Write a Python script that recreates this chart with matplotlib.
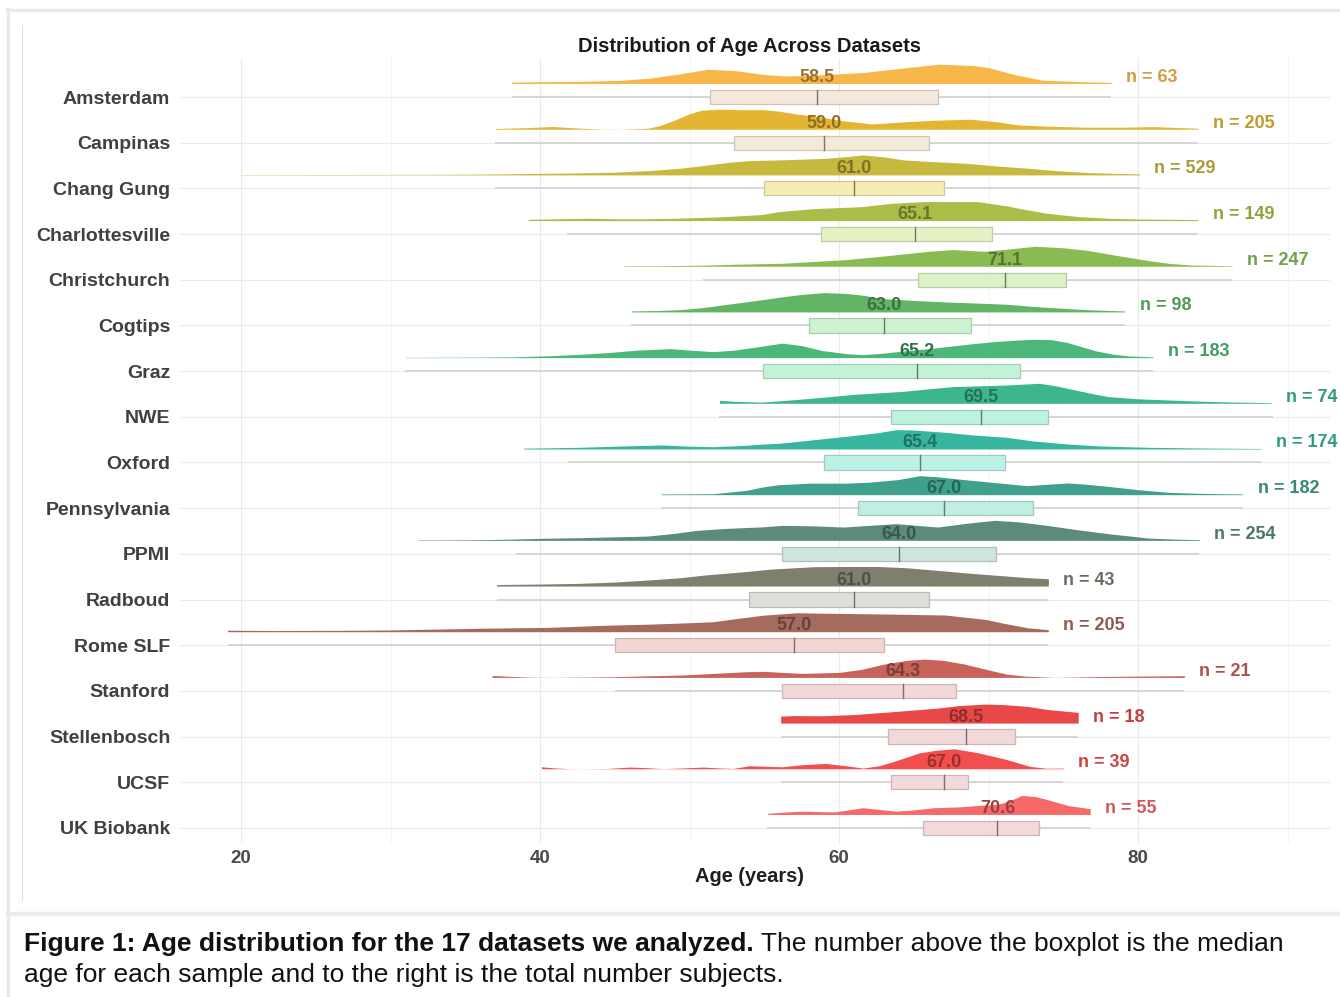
import matplotlib
matplotlib.use("Agg")
import matplotlib.pyplot as plt
from matplotlib.patches import Rectangle
from matplotlib.lines import Line2D
import matplotlib.colors as mcolors
import numpy as np

plt.rcParams['font.family'] = ['Liberation Sans', 'DejaVu Sans']

# ---------------- data ----------------
datasets = ["Amsterdam", "Campinas", "Chang Gung", "Charlottesville", "Christchurch",
            "Cogtips", "Graz", "NWE", "Oxford", "Pennsylvania", "PPMI", "Radboud",
            "Rome SLF", "Stanford", "Stellenbosch", "UCSF", "UK Biobank"]
n_subjects = [63, 205, 529, 149, 247, 98, 183, 74, 174, 182, 254, 43, 205, 21, 18, 39, 55]
median_labels = ["58.5", "59.0", "61.0", "65.1", "71.1", "63.0", "65.2", "69.5", "65.4",
                 "67.0", "64.0", "61.0", "57.0", "64.3", "68.5", "67.0", "70.6"]
medians = [58.5, 59.0, 61.0, 65.1, 71.1, 63.0, 65.2, 69.5, 65.4, 67.0, 64.0, 61.0, 57.0,
           64.3, 68.5, 67.0, 70.6]
q1 = [51.4, 53.0, 55.0, 58.8, 65.3, 58.0, 54.9, 63.5, 59.0, 61.3, 56.2, 54.0, 45.0, 56.2,
      63.3, 63.5, 65.6]
q3 = [66.6, 66.0, 67.0, 70.2, 75.2, 68.8, 72.1, 74.0, 71.1, 73.0, 70.5, 66.0, 63.0, 67.8,
      71.8, 68.6, 73.4]
whisker_lo = [38.1, 37.0, 37.0, 41.8, 50.9, 46.1, 31.0, 52.0, 41.9, 48.1, 38.4, 37.1, 19.1,
              45.0, 56.1, 56.1, 55.2]
whisker_hi = [78.2, 84.0, 80.1, 84.0, 86.3, 79.1, 81.0, 89.0, 88.2, 87.0, 84.1, 74.0, 74.0,
              83.1, 76.0, 75.0, 76.8]
age_max = [78.2, 84.0, 80.1, 84.0, 86.3, 79.1, 81.0, 88.9, 88.2, 87.0, 84.1, 74.0, 74.0,
           83.1, 76.0, 75.0, 76.8]

# density curves: ages and relative density (% of peak)
dens_ages = [
    [38.1, 40, 42.7, 45.4, 47.4, 49.5, 51.2, 53, 55, 56.5, 58.5, 61.6, 64, 66.7, 69, 70, 71.8, 73.6, 76.5, 78.2],
    [37.0, 39.0, 40.9, 42.5, 44.0, 45.5, 47.2, 48.0, 49.0, 50.0, 50.8, 52.0, 53.5, 55.0, 56.0, 57.0, 58.6, 60.1, 62.2, 64.6, 66.5, 68.8, 70.5, 72.0, 74.0, 76.5, 79.0, 81.0, 84.0],
    [20, 25, 30, 35, 37, 40, 42.5, 45, 47.5, 49.4, 51, 52.7, 54, 56, 57.5, 59, 60.5, 61.6, 63, 64.3, 66, 68.4, 70.5, 72.6, 74.5, 76.7, 78.5, 80.1],
    [39.2, 41, 43.5, 45, 47, 49, 51.6, 53, 54.8, 56, 58.3, 60, 61.6, 63.5, 65.7, 67.5, 69.3, 71.2, 72.5, 73.9, 76, 78, 80, 82, 84],
    [45.6, 48, 50.7, 53, 56.2, 58, 60.3, 62.5, 64.3, 66, 67.6, 69, 69.8, 71.5, 73.1, 75, 76.7, 78.5, 80.7, 82, 83.5, 86.3],
    [46.1, 48, 49.4, 51, 52.7, 54.5, 56, 57.5, 59, 60.5, 61.6, 63, 65, 67.1, 69, 71.2, 73, 75.3, 77, 79.1],
    [31, 34, 36, 38.2, 40.5, 42.7, 44.5, 46.5, 48.7, 50, 51.6, 53, 54.4, 56.2, 57.5, 58.9, 60.5, 61.6, 63, 64.3, 66, 67.6, 69, 70.4, 71.8, 73.1, 74.2, 75.3, 76.2, 77.2, 78.3, 79.4, 81],
    [52.0, 53, 54.8, 56.5, 58.9, 61, 62.7, 64.3, 66, 67.6, 69.5, 71.2, 73.4, 74.5, 75.8, 77, 78, 80, 82.1, 84, 86.2, 88.9],
    [38.9, 41, 42.7, 45, 48.2, 50, 51.6, 53.5, 55, 56, 57.5, 59.4, 61, 62.7, 63.8, 65, 67.1, 69, 71.2, 73, 75.3, 77.5, 80.7, 84, 88.2],
    [48.1, 50, 51.6, 53.8, 55, 56, 58, 60.5, 62, 63.9, 65.4, 66.5, 68.4, 70.5, 72.6, 74, 75.3, 76.5, 78, 80, 82.1, 84.5, 87],
    [31.8, 34, 36, 38, 40, 42.7, 45, 47.2, 49, 50.5, 52.5, 54.9, 56.2, 58.3, 60.3, 62, 63.8, 65.2, 66.6, 68.5, 70.4, 72, 73.9, 76, 78, 80.7, 82.5, 84.1],
    [37.1, 40, 42.7, 45, 47, 49.4, 51, 53.8, 55.5, 58.3, 60, 62.7, 64.5, 67.1, 69, 71.2, 72.5, 74.0],
    [19.1, 22, 25, 28, 30, 33, 36, 40.5, 44.4, 47.2, 50, 51.6, 52.8, 54.9, 57.2, 59, 61.6, 64, 67.1, 69.8, 71, 72.6, 74.0],
    [36.8, 38, 39.5, 41, 43, 44.9, 47, 49.4, 51, 53.8, 55, 57.5, 60, 61.5, 63, 64.5, 65.7, 67, 68.4, 70, 71.2, 72.5, 74.4, 76, 78, 80, 83.1],
    [56.1, 57, 58.9, 61, 63, 64.5, 66.6, 68, 69.8, 71, 72.6, 74, 76.0],
    [40.1, 41, 42, 43, 44.5, 46, 47, 48.2, 49.5, 50.9, 52, 52.9, 54, 56.2, 57.5, 59.1, 60.5, 61.6, 62.7, 63.8, 65.4, 66.5, 67.7, 69.3, 71.2, 72.8, 73.9, 75.0],
    [55.2, 56.3, 57.5, 59.7, 61.6, 63.8, 65, 66.3, 68, 69.3, 70.6, 71.5, 72.2, 73.1, 73.9, 75.3, 76.8],
]
dens_pct = [
    [7.5, 9, 11, 16, 27.5, 50, 71, 65, 45, 37.5, 42.5, 55, 75, 97, 90, 80, 43.5, 17, 8.5, 6],
    [4, 7.5, 13.5, 6, 1, 0.5, 5, 17.5, 45, 77.5, 95, 100, 97.5, 97.5, 90, 77.5, 63.5, 43.5, 26.5, 38, 45, 50, 37.5, 21.5, 15, 10, 10, 13, 5],
    [1.5, 2, 2.5, 3.5, 5, 7.5, 10, 13.5, 22.5, 33.5, 47.5, 63.5, 71.5, 75, 78.5, 82.5, 91.5, 100, 90, 75, 67.5, 58.5, 45, 33.5, 21.5, 11.5, 7.5, 5],
    [6, 9, 11.5, 9, 9, 11.5, 17.5, 22.5, 30, 45, 60, 65, 70, 86.5, 95, 95, 95, 73.5, 55, 36.5, 20, 11.5, 8, 6.5, 5],
    [2.5, 3, 5, 10, 15, 22.5, 32.5, 47.5, 61.5, 75, 83.5, 77.5, 75, 87.5, 100, 92.5, 78.5, 55, 28.5, 15, 6.5, 2.5],
    [5, 7.5, 11.5, 22.5, 40, 57.5, 73.5, 87.5, 96.5, 92.5, 83.5, 66.5, 57.5, 50, 45, 38.5, 27.5, 16.5, 10, 5],
    [1.5, 2, 2.5, 4, 9, 16.5, 25, 37.5, 45, 37.5, 30, 37.5, 52.5, 72.5, 60, 35, 20, 15, 22.5, 33.5, 45, 58.5, 70, 80, 87.5, 91.5, 90, 75, 55, 33.5, 17.5, 8.5, 4],
    [15, 10, 6, 15, 30, 45, 52.5, 60, 72.5, 83.5, 87.5, 91.5, 100, 87.5, 66.5, 47.5, 33.5, 22.5, 16.5, 11, 6.5, 3.5],
    [4, 6.5, 8.5, 14, 20, 14, 11.5, 17.5, 25, 28.5, 40, 55, 67.5, 82.5, 96.5, 95, 83.5, 70, 58.5, 40, 25, 15, 8.5, 5, 2.5],
    [3.5, 4, 5, 21.5, 40, 50, 57.5, 57.5, 62.5, 75, 95, 90, 75, 60, 45, 52.5, 58.5, 52.5, 41.5, 25, 11.5, 6, 3.5],
    [2, 2.5, 3.5, 6, 10, 13.5, 17.5, 21.5, 35, 50, 60, 67.5, 75, 72.5, 66.5, 75, 83.5, 75, 66.5, 85, 100, 92.5, 75, 52.5, 33.5, 11.5, 6, 3.5],
    [7.5, 10, 13.5, 20, 29, 41.5, 55, 72.5, 85, 96.5, 97.5, 97.5, 91.5, 75, 62.5, 50, 42.5, 36.5],
    [7.5, 6, 6.5, 7.5, 9, 13, 17.5, 21.5, 32.5, 37.5, 45, 50, 62.5, 82.5, 95, 92.5, 90, 87.5, 83.5, 61.5, 42.5, 20, 10],
    [10, 5, 1, 0.5, 2, 3.5, 7.5, 11.5, 17.5, 28.5, 30, 20, 25, 40, 66.5, 85, 91.5, 85, 66.5, 37.5, 16.5, 6, 0.25, 2.5, 5, 6.5, 8.5],
    [35, 37.5, 36.5, 42.5, 53.5, 62.5, 75, 87.5, 95, 92.5, 83.5, 67.5, 53.5],
    [10, 4, 0.5, 0.25, 1.5, 8.5, 6, 0.5, 4, 8.5, 4, 1.5, 15, 10, 20, 26.5, 15, 3.5, 15, 40, 80, 92.5, 100, 80, 46.5, 11.5, 2.5, 3.5],
    [5, 11.5, 16.5, 12.5, 33.5, 16.5, 22.5, 33.5, 37.5, 45, 50, 70, 95, 90, 75, 45, 28.5],
]

# ---------------- styles ----------------
fill_colors = ["#F8B74A", "#E3B532", "#C7B83E", "#A9BE48", "#8ABA52", "#62B564", "#4DB779",
               "#3DB68D", "#37B59E", "#3FA08C", "#5C8B79", "#7F7F6E", "#A66B5F", "#C8625B",
               "#E84848", "#F34E4E", "#F76868"]
box_fills = ["#F6E8DC", "#F5E9D7", "#F5EDB4", "#E6F2C4", "#DCF2C6", "#CDF2D0", "#C3F3D7",
             "#BDF2DF", "#BCF2E6", "#C0EEE3", "#CFE6DC", "#DEDEDA", "#F3D6D3", "#F2D8D8",
             "#F2D8D8", "#F2DADA", "#F2DADA"]


def shade(c, f):
    r, g, b = mcolors.to_rgb(c)
    return (r * f, g * f, b * f)


W, H = 1340, 997
fig = plt.figure(figsize=(W / 100, H / 100), dpi=100)
fig.patch.set_facecolor("white")


def fx(px):
    return px / W


def fy(py):
    return 1 - py / H


# outer frame, separator and inner line
frame_c = "#e8e8e8"
fig.add_artist(Line2D([fx(7), fx(1340)], [fy(10), fy(10)], color=frame_c, lw=2.4))
fig.add_artist(Line2D([fx(8), fx(8)], [fy(9), fy(997)], color=frame_c, lw=2.4))
fig.add_artist(Line2D([fx(8), fx(1340)], [fy(913.5), fy(913.5)], color="#ebebeb", lw=3.2))
fig.add_artist(Line2D([fx(22), fx(22)], [fy(25), fy(900)], color="#dedede", lw=0.8))

ax = fig.add_axes([fx(180), fy(843), fx(1330) - fx(180), fy(58) - fy(843)])
ax.set_xlim(15.92, 92.84)
ax.set_ylim(16.33, -0.854)
for s in ax.spines.values():
    s.set_visible(False)

ax.set_xticks([20, 40, 60, 80])
ax.set_xticks([30, 50, 70, 90], minor=True)
ax.set_yticks(range(len(datasets)))
ax.set_yticklabels(datasets)
ax.grid(True, which="major", axis="both", color="#ebebeb", lw=0.8, zorder=0)
ax.grid(True, which="minor", axis="x", color="#f3f3f3", lw=0.7, zorder=0)
ax.set_axisbelow(True)
ax.tick_params(axis="both", which="both", length=0)
ax.tick_params(axis="x", labelsize=13.5, labelcolor="#4a4a4a", pad=5)
ax.tick_params(axis="y", labelsize=14, labelcolor="#404040", pad=7)
for lab in ax.get_xticklabels() + ax.get_yticklabels():
    lab.set_fontweight("bold")

slab_off = 0.295
slab_h = 0.438 / 100.0
box_half = 0.155
label_off = 0.427

for i in range(len(datasets)):
    a = np.array(dens_ages[i])
    h = np.array(dens_pct[i]) * slab_h
    base = i - slab_off
    ax.fill_between(a, base, base - h, color=fill_colors[i], lw=0, zorder=3)

    # whiskers
    ax.plot([whisker_lo[i], q1[i]], [i, i], color="#cdcdcd", lw=1.1, zorder=2,
            solid_capstyle="butt")
    ax.plot([q3[i], whisker_hi[i]], [i, i], color="#cdcdcd", lw=1.1, zorder=2,
            solid_capstyle="butt")
    # box
    ax.add_patch(Rectangle((q1[i], i - box_half), q3[i] - q1[i], 2 * box_half,
                           facecolor=box_fills[i], edgecolor=shade(box_fills[i], 0.84),
                           lw=0.9, zorder=4))
    ax.plot([medians[i], medians[i]], [i - box_half, i + box_half],
            color=shade(box_fills[i], 0.5), lw=1.0, zorder=5)

    ax.text(medians[i], i - label_off, median_labels[i], ha="center", va="center",
            fontsize=13, fontweight="bold", color=shade(fill_colors[i], 0.62), zorder=6)
    ax.text(age_max[i] + 1.0, i - label_off, f"n = {n_subjects[i]}", ha="left",
            va="center", fontsize=13, fontweight="bold",
            color=shade(fill_colors[i], 0.85), zorder=6)

fig.text(fx(750), fy(46), "Distribution of Age Across Datasets", ha="center", va="center",
         fontsize=14.5, fontweight="bold", color="#1a1a1a")
fig.text(fx(750), fy(876), "Age (years)", ha="center", va="center",
         fontsize=14.4, fontweight="bold", color="#1f1f1f")

# caption
cap1 = fig.text(fx(24), fy(944), "Figure 1: Age distribution for the 17 datasets we analyzed.",
                ha="left", va="center", fontsize=19, fontweight="bold", color="#111111")
fig.canvas.draw()
bb = cap1.get_window_extent(renderer=fig.canvas.get_renderer())
fig.text(bb.x1 / W, fy(944), " The number above the boxplot is the median", ha="left",
         va="center", fontsize=19, color="#111111")
fig.text(fx(24), fy(975), "age for each sample and to the right is the total number subjects.",
         ha="left", va="center", fontsize=19, color="#111111")

fig.savefig("out.png", dpi=100, facecolor="white")
